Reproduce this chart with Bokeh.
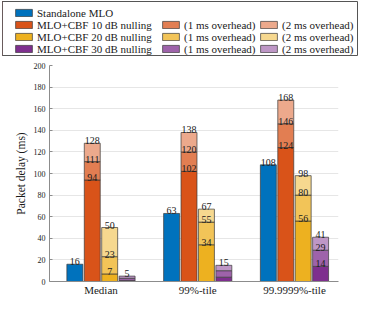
from bokeh.plotting import figure
from bokeh.models import Range1d, FixedTicker, Legend, LegendItem
from bokeh.embed import file_html
from bokeh.resources import INLINE
from bokeh.core.properties import value

# ---------------- data ----------------
categories = ["Median", "99%-tile", "99.9999%-tile"]
y_ticks = [0, 20, 40, 60, 80, 100, 120, 140, 160, 180, 200]

standalone = [16, 63, 108]
cbf10_base = [94, 102, 124]
cbf10_1ms = [111, 120, 146]
cbf10_2ms = [128, 138, 168]
cbf20_base = [7, 34, 56]
cbf20_1ms = [23, 55, 80]
cbf20_2ms = [50, 67, 98]
cbf30_base = [1, 4, 14]
cbf30_1ms = [3, 10, 29]
cbf30_2ms = [5, 15, 41]
cbf30_inner_labels = [False, False, True]

legend_col1 = ["Standalone MLO", "MLO+CBF 10 dB nulling", "MLO+CBF 20 dB nulling", "MLO+CBF 30 dB nulling"]
legend_col2 = ["(1 ms overhead)", "(1 ms overhead)", "(1 ms overhead)"]
legend_col3 = ["(2 ms overhead)", "(2 ms overhead)", "(2 ms overhead)"]

# ---------------- style ----------------
FONT = "Liberation Serif"
TXT = "#1a1a1a"
EDGE = "#3a3a3a"
BLUE = "#0072BD"
ORANGE = ["#D95319", "#E27E52", "#ECA98C"]
YELLOW = ["#EDB120", "#F2C458", "#F6D88F"]
PURPLE = ["#7E2F8E", "#9E63AA", "#BE97C6"]
offsets = [-0.27, -0.09, 0.09, 0.27]
bar_w = 0.165

p = figure(width=358, height=242, output_backend="svg", toolbar_location=None,
           x_range=Range1d(-0.532, 2.455), y_range=Range1d(0, 200),
           min_border_left=49, min_border_right=20, min_border_top=9, min_border_bottom=15)
p.outline_line_color = None
p.xgrid.grid_line_color = None
p.ygrid.grid_line_color = "#e6e6e6"
p.ygrid.ticker = FixedTicker(ticks=y_ticks)

p.yaxis.ticker = FixedTicker(ticks=y_ticks)
p.yaxis.axis_label = "Packet delay (ms)"
p.yaxis.axis_label_text_font = FONT
p.yaxis.axis_label_text_font_style = "normal"
p.yaxis.axis_label_text_font_size = "11.5px"
p.yaxis.axis_label_text_color = TXT
p.yaxis.axis_label_standoff = 4
p.yaxis.major_label_text_font = FONT
p.yaxis.major_label_text_font_size = "8px"
p.yaxis.major_label_text_color = TXT
p.yaxis.major_label_standoff = 4
p.yaxis.major_tick_in = 3
p.yaxis.major_tick_out = 0
p.yaxis.minor_tick_line_color = None
p.yaxis.axis_line_color = "#8c8c8c"
p.yaxis.major_tick_line_color = "#8c8c8c"

p.xaxis.ticker = FixedTicker(ticks=[0, 1, 2])
p.xaxis.major_label_overrides = {i: c for i, c in enumerate(categories)}
p.xaxis.major_label_text_font = FONT
p.xaxis.major_label_text_font_size = "11px"
p.xaxis.major_label_text_color = TXT
p.xaxis.major_label_standoff = 2
p.xaxis.major_tick_in = 0
p.xaxis.major_tick_out = 0
p.xaxis.minor_tick_line_color = None
p.xaxis.axis_line_color = "#8c8c8c"

lab_x, lab_y, lab_t = [], [], []

def xs(k):
    return [i + offsets[k] for i in range(len(categories))]

p.vbar(x=xs(0), bottom=0, top=standalone, width=bar_w, fill_color=BLUE,
       line_color=EDGE, line_width=0.7)
for x, v in zip(xs(0), standalone):
    lab_x.append(x); lab_y.append(v); lab_t.append(str(v))

stacks = [
    (1, [cbf10_base, cbf10_1ms, cbf10_2ms], ORANGE, [True, True, True]),
    (2, [cbf20_base, cbf20_1ms, cbf20_2ms], YELLOW, [True, True, True]),
    (3, [cbf30_base, cbf30_1ms, cbf30_2ms], PURPLE, cbf30_inner_labels),
]
for k, layers, cols, inner in stacks:
    bottoms = [0] * len(categories)
    for li, (vals, col) in enumerate(zip(layers, cols)):
        p.vbar(x=xs(k), bottom=bottoms, top=vals, width=bar_w, fill_color=col,
               line_color=EDGE, line_width=0.7)
        for gi, (x, v) in enumerate(zip(xs(k), vals)):
            if li == 2 or inner[gi]:
                lab_x.append(x); lab_y.append(v); lab_t.append(str(v))
        bottoms = vals

p.text(x=lab_x, y=lab_y, text=lab_t, text_align="center", text_baseline="bottom",
       text_font=value(FONT), text_font_size="10px", text_color=TXT, y_offset=1)

# ---------------- legend panel ----------------
LW, LH = 358, 56
lf = figure(width=LW, height=LH, output_backend="svg", toolbar_location=None,
            x_range=Range1d(0, 1), y_range=Range1d(0, 1),
            x_axis_type=None, y_axis_type=None,
            min_border_left=2, min_border_top=1, min_border_right=0, min_border_bottom=0)
lf.outline_line_color = "#555555"
lf.outline_line_width = 1
lf.xgrid.visible = False
lf.ygrid.visible = False

def dummy(color):
    return lf.vbar(x=[-100], bottom=0, top=1, width=1, fill_color=color,
                   line_color=EDGE, line_width=0.7)

col1_colors = [BLUE, ORANGE[0], YELLOW[0], PURPLE[0]]
col2_colors = [ORANGE[1], YELLOW[1], PURPLE[1]]
col3_colors = [ORANGE[2], YELLOW[2], PURPLE[2]]

def make_legend(labels, colors, loc):
    items = [LegendItem(label=l, renderers=[dummy(c)]) for l, c in zip(labels, colors)]
    lg = Legend(items=items, location=loc, orientation="vertical", padding=0, margin=0,
                spacing=0, glyph_width=21, glyph_height=9, label_standoff=3,
                label_height=9, label_text_font=FONT, label_text_font_size="11px",
                label_text_color=TXT, background_fill_alpha=0, border_line_alpha=0)
    lf.add_layout(lg, "center")

make_legend(legend_col1, col1_colors, (11, 1.5))
make_legend(legend_col2, col2_colors, (158, 1.5))
make_legend(legend_col3, col3_colors, (256, 1.5))

open("out.html", "w").write(file_html([lf, p], INLINE))
